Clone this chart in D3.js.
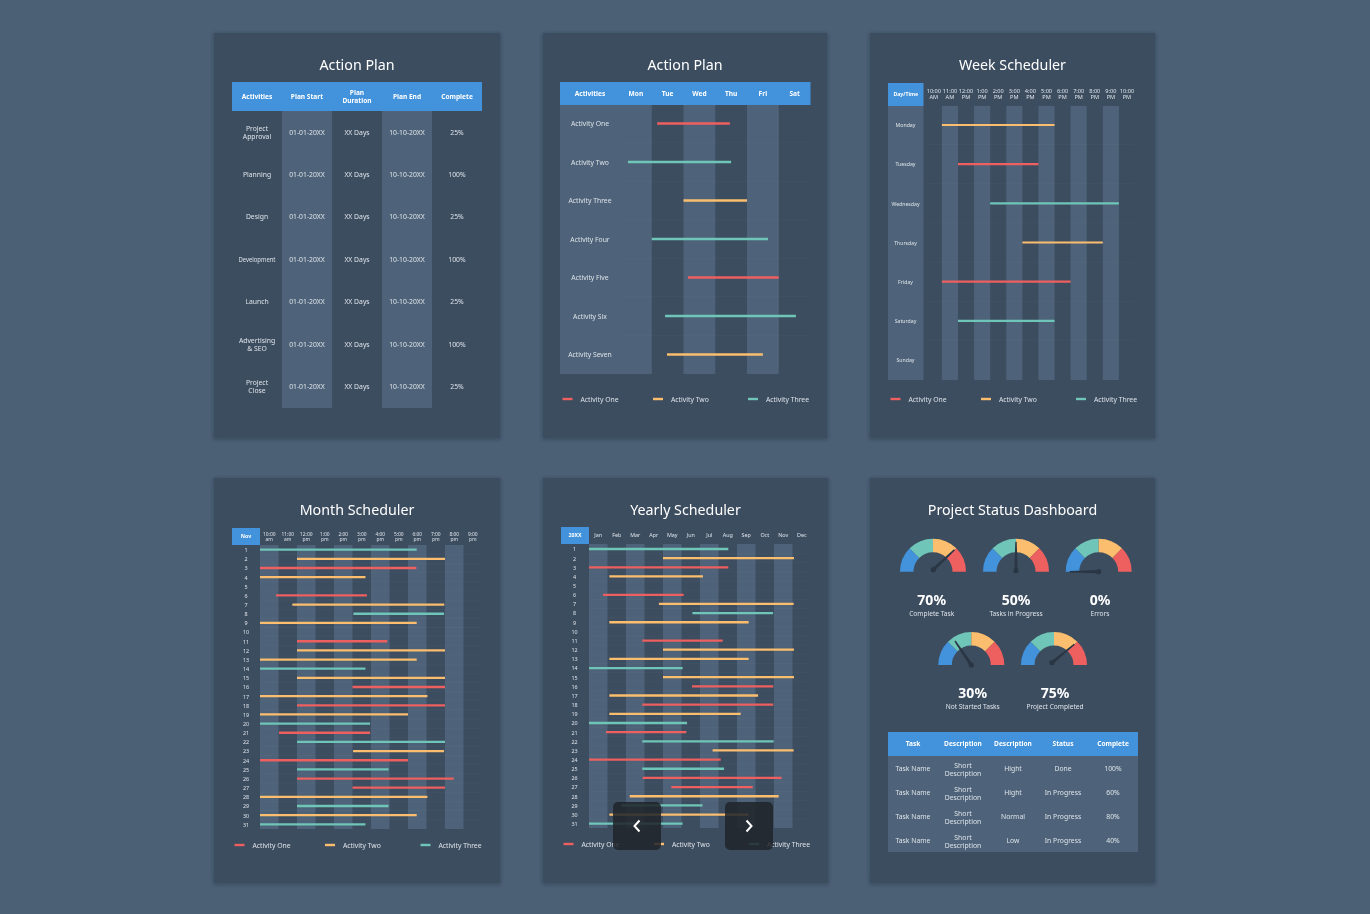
<!DOCTYPE html>
<html>
<head>
<meta charset="utf-8">
<title>Project planning sheets</title>
<script src="https://cdn.jsdelivr.net/npm/d3@7"></script>
<style>
body { margin: 0; background: #4b5f75; }
svg { display: block; will-change: transform; }
text { font-family: "Noto Sans", "Open Sans", sans-serif; }
</style>
</head>
<body>
<div id="chart"></div>
<script>
// Shared
var seriesNames = ['Activity One', 'Activity Two', 'Activity Three'];

// Action plan table
var planHeaders = ['Activities', 'Plan Start', 'Plan\nDuration', 'Plan End', 'Complete'];
var planNames = ['Project\nApproval', 'Planning', 'Design', 'Development', 'Launch', 'Advertising\n& SEO', 'Project\nClose'];
var planStarts = ['01-01-20XX', '01-01-20XX', '01-01-20XX', '01-01-20XX', '01-01-20XX', '01-01-20XX', '01-01-20XX'];
var planDurations = ['XX Days', 'XX Days', 'XX Days', 'XX Days', 'XX Days', 'XX Days', 'XX Days'];
var planEnds = ['10-10-20XX', '10-10-20XX', '10-10-20XX', '10-10-20XX', '10-10-20XX', '10-10-20XX', '10-10-20XX'];
var planComplete = ['25%', '100%', '25%', '100%', '25%', '100%', '25%'];

// Action plan gantt, in days from Monday
var weekDays = ['Mon', 'Tue', 'Wed', 'Thu', 'Fri', 'Sat'];
var activityNames = ['Activity One', 'Activity Two', 'Activity Three', 'Activity Four', 'Activity Five', 'Activity Six', 'Activity Seven'];
var activityStart = [1.17, 0.25, 2, 1, 2.14, 1.42, 1.48];
var activityEnd = [3.46, 3.5, 4, 4.66, 5, 5.54, 4.5];
var activitySeries = [0, 2, 1, 2, 0, 2, 1];

// Week scheduler, in hour columns from 10:00 AM
var weekHours = ['10:00\nAM', '11:00\nAM', '12:00\nPM', '1:00\nPM', '2:00\nPM', '3:00\nPM', '4:00\nPM', '5:00\nPM', '6:00\nPM', '7:00\nPM', '8:00\nPM', '9:00\nPM', '10:00\nPM'];
var dayNames = ['Monday', 'Tuesday', 'Wednesday', 'Thursday', 'Friday', 'Saturday', 'Sunday'];
var dayStart = [1, 2, 4, 6, 1, 2, null];
var dayEnd = [8, 7, 12, 11, 9, 8, null];
var daySeries = [1, 0, 2, 1, 0, 2, null];

// Month scheduler
var monthHours = ['10:00\nam', '11:00\nam', '12:00\npm', '1:00\npm', '2:00\npm', '3:00\npm', '4:00\npm', '5:00\npm', '6:00\npm', '7:00\npm', '8:00\npm', '9:00\npm'];
var dateNumbers = d3.range(1, 32).map(String);
var monthStart = [0, 2, 0, 0, null, 0.86, 1.75, 5.05, 0, null, 2, 2, 0, 0, 2, 5, 0, 2, 0, 0, 1.03, 2, 5.03, 0, 2, 2, 5, 0, 2, 0, 0];
var monthEnd = [8.47, 10, 8.45, 5.7, null, 5.78, 9.96, 9.95, 8.47, null, 6.88, 10, 8.47, 5.7, 10, 10, 9.05, 10, 8, 5.95, 5.95, 10, 9.95, 8, 6.95, 10.47, 10, 9.05, 6.95, 8.47, 5.7];
var monthSeries = [2, 1, 0, 1, null, 0, 1, 2, 1, null, 0, 1, 1, 2, 1, 0, 1, 0, 1, 2, 0, 2, 1, 0, 2, 0, 0, 1, 2, 1, 2];

// Yearly scheduler
var monthNames = ['Jan', 'Feb', 'Mar', 'Apr', 'May', 'Jun', 'Jul', 'Aug', 'Sep', 'Oct', 'Nov', 'Dec'];
var yearStart = [0, 4, 0, 1.1, null, 0.76, 3.78, 5.59, 1.1, null, 2.88, 4, 1.1, 0, 4, 5.57, 1.1, 2.88, 1.1, 0, 0.92, 2.88, 6.68, 0, 2.88, 2.9, 4.45, 2.2, 1.73, 1.1, 0];
var yearEnd = [7.53, 11.08, 7.53, 6.16, null, 5.12, 11.06, 9.95, 8.63, null, 7.23, 11.08, 8.63, 5.06, 11.08, 9.96, 9.14, 9.96, 8.2, 5.3, 5.26, 9.98, 11.06, 7.12, 7.3, 10.41, 8.85, 10.25, 6.14, 8.63, 5.06];
var yearSeries = [2, 1, 0, 1, null, 0, 1, 2, 1, null, 0, 1, 1, 2, 1, 0, 1, 0, 1, 2, 0, 2, 1, 0, 2, 0, 0, 1, 2, 1, 2];

// Dashboard gauges; needles do not sit exactly where the labels say
var gaugeValues = ['70%', '50%', '0%', '30%', '75%'];
var gaugeNames = ['Complete Task', 'Tasks in Progress', 'Errors', 'Not Started Tasks', 'Project Completed'];
var gaugeNeedles = [76, 50, 0, 31, 78];
var gaugeBands = [25, 25, 25, 25];

// Dashboard table
var taskHeaders = ['Task', 'Description', 'Description', 'Status', 'Complete'];
var taskNames = ['Task Name', 'Task Name', 'Task Name', 'Task Name'];
var taskDescriptions = ['Short\nDescription', 'Short\nDescription', 'Short\nDescription', 'Short\nDescription'];
var taskPriorities = ['Hight', 'Hight', 'Normal', 'Low'];
var taskStatuses = ['Done', 'In Progress', 'In Progress', 'In Progress'];
var taskComplete = ['100%', '60%', '80%', '40%'];

var BLUE = '#4293dc', LIGHT = '#4e6379', CARD = '#3d4e60', BODY = '#dde3e9';
var seriesColors = ['#ee5f5f', '#fbbe6e', '#6fc5b8'];
var gaugeColors = ['#4293dc', '#6fc5b8', '#fbbe6e', '#ee5f5f'];

var svg = d3.select('#chart').append('svg').attr('width', 1370).attr('height', 914);
svg.append('rect').attr('width', 1370).attr('height', 914).attr('fill', '#4b5f75');
svg.append('defs').append('filter').attr('id', 'shadow')
	.attr('x', '-5%').attr('y', '-5%').attr('width', '110%').attr('height', '110%')
	.append('feDropShadow').attr('dx', 0).attr('dy', 1).attr('stdDeviation', 2)
	.attr('flood-color', '#1c2733').attr('flood-opacity', 0.4);

/** Writes a centered text, one tspan per line */
function label(g, x, y, str, size, opts) {
	opts = opts || {};
	var lines = str.split('\n'), lead = opts.lead || size * 1.17;
	var t = g.append('text').attr('text-anchor', opts.anchor || 'middle')
		.attr('font-size', size).attr('font-weight', opts.weight || 400)
		.attr('fill', opts.fill || BODY);
	lines.forEach(function(line, i) {
		var span = t.append('tspan').attr('x', x)
			.attr('y', y + (i - (lines.length - 1) / 2) * lead + size * 0.35)
			.text(line);
		// Some labels are squeezed in the original
		if (opts.fit && span.node().getComputedTextLength() > opts.fit) {
			span.attr('textLength', opts.fit).attr('lengthAdjust', 'spacingAndGlyphs');
		}
	});
	return t;
}

/** Draws a card with its title */
function card(x, y, w, h, title) {
	var g = svg.append('g');
	g.append('rect').attr('x', x).attr('y', y).attr('width', w).attr('height', h)
		.attr('fill', CARD).attr('filter', 'url(#shadow)');
	label(g, x + w / 2, y + 32, title, 14.25, { fill: '#fff' });
	return g;
}

/** Draws a table whose columns come from a band scale */
function table(g, o) {
	var x = d3.scaleBand().domain(d3.range(o.columns.length)).range([o.x, o.x + o.w]);
	var y = d3.scaleBand().domain(d3.range(o.columns[0].length)).range([o.top, o.bottom]);
	o.stripes.forEach(function(c) {
		g.append('rect').attr('x', x(c)).attr('y', o.top).attr('width', x.bandwidth())
			.attr('height', o.bottom - o.top).attr('fill', LIGHT);
	});
	g.append('rect').attr('x', o.x).attr('y', o.head).attr('width', o.w).attr('height', o.top - o.head).attr('fill', BLUE);
	o.headers.forEach(function(h, c) {
		label(g, x(c) + x.bandwidth() / 2, (o.head + o.top) / 2, h, 6.6, { weight: 700, fill: '#fff', lead: 8 });
	});
	o.columns.forEach(function(col, c) {
		col.forEach(function(v, r) {
			var dy = v.indexOf('\n') >= 0 ? o.wrapShift : o.lineShift;
			label(g, x(c) + x.bandwidth() / 2, y(r) + y.bandwidth() / 2 + dy, v, 6.8, { lead: 8, fit: 37 });
		});
	});
}

/** Draws a schedule: stripes, row lines, the time and row axes, then the bars */
function gantt(g, o) {
	var x = d3.scaleBand().domain(o.ticks).range([o.x0, o.x1]).paddingInner(0).paddingOuter(0);
	var pos = d3.scaleLinear().domain([0, o.ticks.length]).range([o.x0, o.x1]);
	var y = d3.scalePoint().domain(o.rows).range([o.rowFirst, o.rowLast]);

	if (o.labelFill) {
		g.append('rect').attr('x', o.headX).attr('y', o.top).attr('width', o.labelEnd - o.headX)
			.attr('height', o.bottom - o.top).attr('fill', LIGHT);
	}
	g.selectAll(null).data(o.ticks.filter(function(t, i) { return i % 2 == o.stripeOdd; })).enter().append('rect')
		.attr('x', function(t) { return x(t); }).attr('y', o.top)
		.attr('width', x.bandwidth()).attr('height', o.bottom - o.top)
		.attr('fill', LIGHT);

	// Faint lines between the rows
	var step = y.step();
	g.selectAll(null).data(o.rows.slice(0, -1)).enter().append('line')
		.attr('x1', o.x0).attr('x2', o.x1)
		.attr('y1', function(r) { return y(r) + step / 2; })
		.attr('y2', function(r) { return y(r) + step / 2; })
		.attr('stroke', '#fff').attr('stroke-opacity', 0.035).attr('stroke-width', 0.7);

	g.append('rect').attr('x', o.headX).attr('y', o.headY)
		.attr('width', (o.headFull ? o.x1 : o.labelEnd) - o.headX).attr('height', o.top - o.headY)
		.attr('fill', BLUE);
	if (o.corner) {
		label(g, (o.headX + o.labelEnd) / 2, (o.headY + o.top) / 2, o.corner, o.cornerSize, { weight: 700, fill: '#fff' });
	}

	// Time axis
	var top = g.append('g').attr('transform', 'translate(0,' + o.tickY + ')')
		.call(d3.axisTop(x).tickSize(0).tickPadding(0));
	top.select('.domain').remove();
	top.selectAll('text').each(function(t) {
		var el = d3.select(this).text(null)
			.attr('font-size', o.tickSize).attr('font-weight', o.tickWeight)
			.style('fill', o.tickFill).attr('text-anchor', 'middle').attr('dy', null).attr('y', null);
		var lines = t.split('\n');
		lines.forEach(function(line, i) {
			el.append('tspan').attr('x', 0)
				.attr('y', (i - (lines.length - 1) / 2) * o.tickLead + o.tickSize * 0.35)
				.text(line);
		});
	});

	// Row axis
	var left = g.append('g').attr('transform', 'translate(' + o.rowX + ',0)')
		.call(d3.axisLeft(y).tickSize(0).tickPadding(0));
	left.select('.domain').remove();
	left.selectAll('text').attr('x', 0).attr('dy', '0.35em')
		.attr('text-anchor', 'middle').attr('font-size', o.rowSize).style('fill', BODY);

	// Bars
	var bars = o.rows.map(function(r, i) {
		return { row: r, start: o.start[i], end: o.end[i], series: o.series[i] };
	}).filter(function(d) { return d.start !== null; });
	g.selectAll(null).data(bars).enter().append('line')
		.attr('x1', function(d) { return pos(d.start); })
		.attr('x2', function(d) { return pos(d.end); })
		.attr('y1', function(d) { return y(d.row); })
		.attr('y2', function(d) { return y(d.row); })
		.attr('stroke', function(d) { return seriesColors[d.series]; })
		.attr('stroke-width', o.barWidth);
}

/** Draws the three swatch legend */
function legend(g, y, xs) {
	seriesNames.forEach(function(name, i) {
		g.append('line').attr('x1', xs[i]).attr('x2', xs[i] + 10).attr('y1', y).attr('y2', y)
			.attr('stroke', seriesColors[i]).attr('stroke-width', 2.4);
		label(g, xs[i] + 18, y + 0.5, name, 6.8, { anchor: 'start' });
	});
}

/** Draws one half-donut gauge with its needle */
function gauge(g, i, cx, cy, hubX, hubY) {
	var angle = d3.scaleLinear().domain([0, 100]).range([-90, 90]);
	var pie = d3.pie().sort(null).startAngle(-Math.PI / 2).endAngle(Math.PI / 2);
	var arc = d3.arc().innerRadius(19.5).outerRadius(33);
	g.append('g').attr('transform', 'translate(' + cx + ',' + cy + ')')
		.selectAll('path').data(pie(gaugeBands)).enter().append('path')
		.attr('d', arc).attr('fill', function(d, k) { return gaugeColors[k]; });
	var needle = g.append('g')
		.attr('transform', 'translate(' + (cx + hubX) + ',' + (cy + hubY) + ')');
	needle.append('path').attr('d', 'M-1.6,0L-0.7,-29L0.7,-29L1.6,0Z')
		.attr('transform', 'rotate(' + angle(gaugeNeedles[i]) + ')').attr('fill', '#2a3643');
	needle.append('circle').attr('r', 2.6).attr('fill', '#2a3643');
}

// Top row
var c1 = card(214, 33, 286, 405, 'Action Plan');
table(c1, {
	x: 232, w: 250, head: 82, top: 111, bottom: 408, stripes: [1, 3], wrapShift: 0, lineShift: 0,
	headers: planHeaders,
	columns: [planNames, planStarts, planDurations, planEnds, planComplete]
});

var c2 = card(543, 33, 284, 405, 'Action Plan');
gantt(c2, {
	ticks: weekDays, rows: activityNames, start: activityStart, end: activityEnd, series: activitySeries,
	x0: 620, x1: 810.5, labelEnd: 620, headX: 560, headY: 82, top: 105, bottom: 374, headFull: true, labelFill: true,
	corner: 'Activities', cornerSize: 6.6, stripeOdd: 0,
	rowFirst: 123.5, rowLast: 354.5, rowX: 590, rowSize: 6.8, barWidth: 2.5,
	tickY: 93.5, tickSize: 6.6, tickWeight: 700, tickFill: '#fff', tickLead: 7
});
legend(c2, 399, [562.5, 653, 748]);

var c3 = card(870, 33, 285, 405, 'Week Scheduler');
gantt(c3, {
	ticks: weekHours, rows: dayNames, start: dayStart, end: dayEnd, series: daySeries,
	x0: 925.8, x1: 1135, labelEnd: 923.5, headX: 888, headY: 83, top: 106, bottom: 380, labelFill: true,
	corner: 'Day/Time', cornerSize: 5.2, stripeOdd: 1,
	rowFirst: 125, rowLast: 360, rowX: 905.5, rowSize: 5.2, barWidth: 2.2,
	tickY: 94, tickSize: 5.6, tickWeight: 400, tickFill: BODY, tickLead: 6.6
});
legend(c3, 399, [890.5, 981, 1076]);

// Bottom row
var c4 = card(214, 478, 286, 405, 'Month Scheduler');
gantt(c4, {
	ticks: monthHours, rows: dateNumbers, start: monthStart, end: monthEnd, series: monthSeries,
	x0: 260, x1: 482, labelEnd: 260, headX: 232, headY: 528, top: 545, bottom: 829,
	corner: 'Nov', cornerSize: 5.2, stripeOdd: 0,
	rowFirst: 549.7, rowLast: 824.3, rowX: 246, rowSize: 5.4, barWidth: 2.3,
	tickY: 536.5, tickSize: 4.9, tickWeight: 400, tickFill: BODY, tickLead: 5.3
});
legend(c4, 845, [234.5, 325, 420.5]);

var c5 = card(543, 478, 285, 405, 'Yearly Scheduler');
gantt(c5, {
	ticks: monthNames, rows: dateNumbers, start: yearStart, end: yearEnd, series: yearSeries,
	x0: 589, x1: 811, labelEnd: 589, headX: 561, headY: 527, top: 544, bottom: 828,
	corner: '20XX', cornerSize: 5.2, stripeOdd: 0,
	rowFirst: 549, rowLast: 823.7, rowX: 574.5, rowSize: 5.4, barWidth: 2.3,
	tickY: 535.5, tickSize: 5.4, tickWeight: 400, tickFill: BODY, tickLead: 6
});
legend(c5, 844, [563.5, 654, 749]);

var c6 = card(870, 478, 285, 405, 'Project Status Dashboard');
gauge(c6, 0, 933, 571.7, 0.3, -2);
gauge(c6, 1, 1016, 571.7, 0, -1);
gauge(c6, 2, 1098.7, 571.7, 0, 0);
gauge(c6, 3, 971.3, 665, 0, 0);
gauge(c6, 4, 1054, 665, -2, -2.3);
var valueX = [931.7, 1016, 1100, 972.7, 1055];
var valueY = [600, 600, 600, 693, 693];
gaugeValues.forEach(function(v, i) {
	label(c6, valueX[i], valueY[i], v, 14, { weight: 700, fill: '#fff' });
	label(c6, valueX[i], valueY[i] + 13.3, gaugeNames[i], 6.6);
});
table(c6, {
	x: 888, w: 250, head: 732, top: 756, bottom: 852, stripes: [0, 1, 2, 3, 4], wrapShift: 2, lineShift: 0.6,
	headers: taskHeaders,
	columns: [taskNames, taskDescriptions, taskPriorities, taskStatuses, taskComplete]
});

// Slider buttons sitting on top of the yearly sheet
[[613, -1], [725, 1]].forEach(function(b) {
	svg.append('rect').attr('x', b[0]).attr('y', 802).attr('width', 48).attr('height', 48).attr('rx', 5)
		.attr('fill', '#1f242a').attr('fill-opacity', 0.86);
	var cx = b[0] + 24, cy = 826, p = d3.path();
	p.moveTo(cx - b[1] * 2.5, cy - 5.5);
	p.lineTo(cx + b[1] * 2.5, cy);
	p.lineTo(cx - b[1] * 2.5, cy + 5.5);
	svg.append('path').attr('d', p.toString()).attr('fill', 'none')
		.attr('stroke', '#fff').attr('stroke-width', 2);
});
</script>
</body>
</html>
